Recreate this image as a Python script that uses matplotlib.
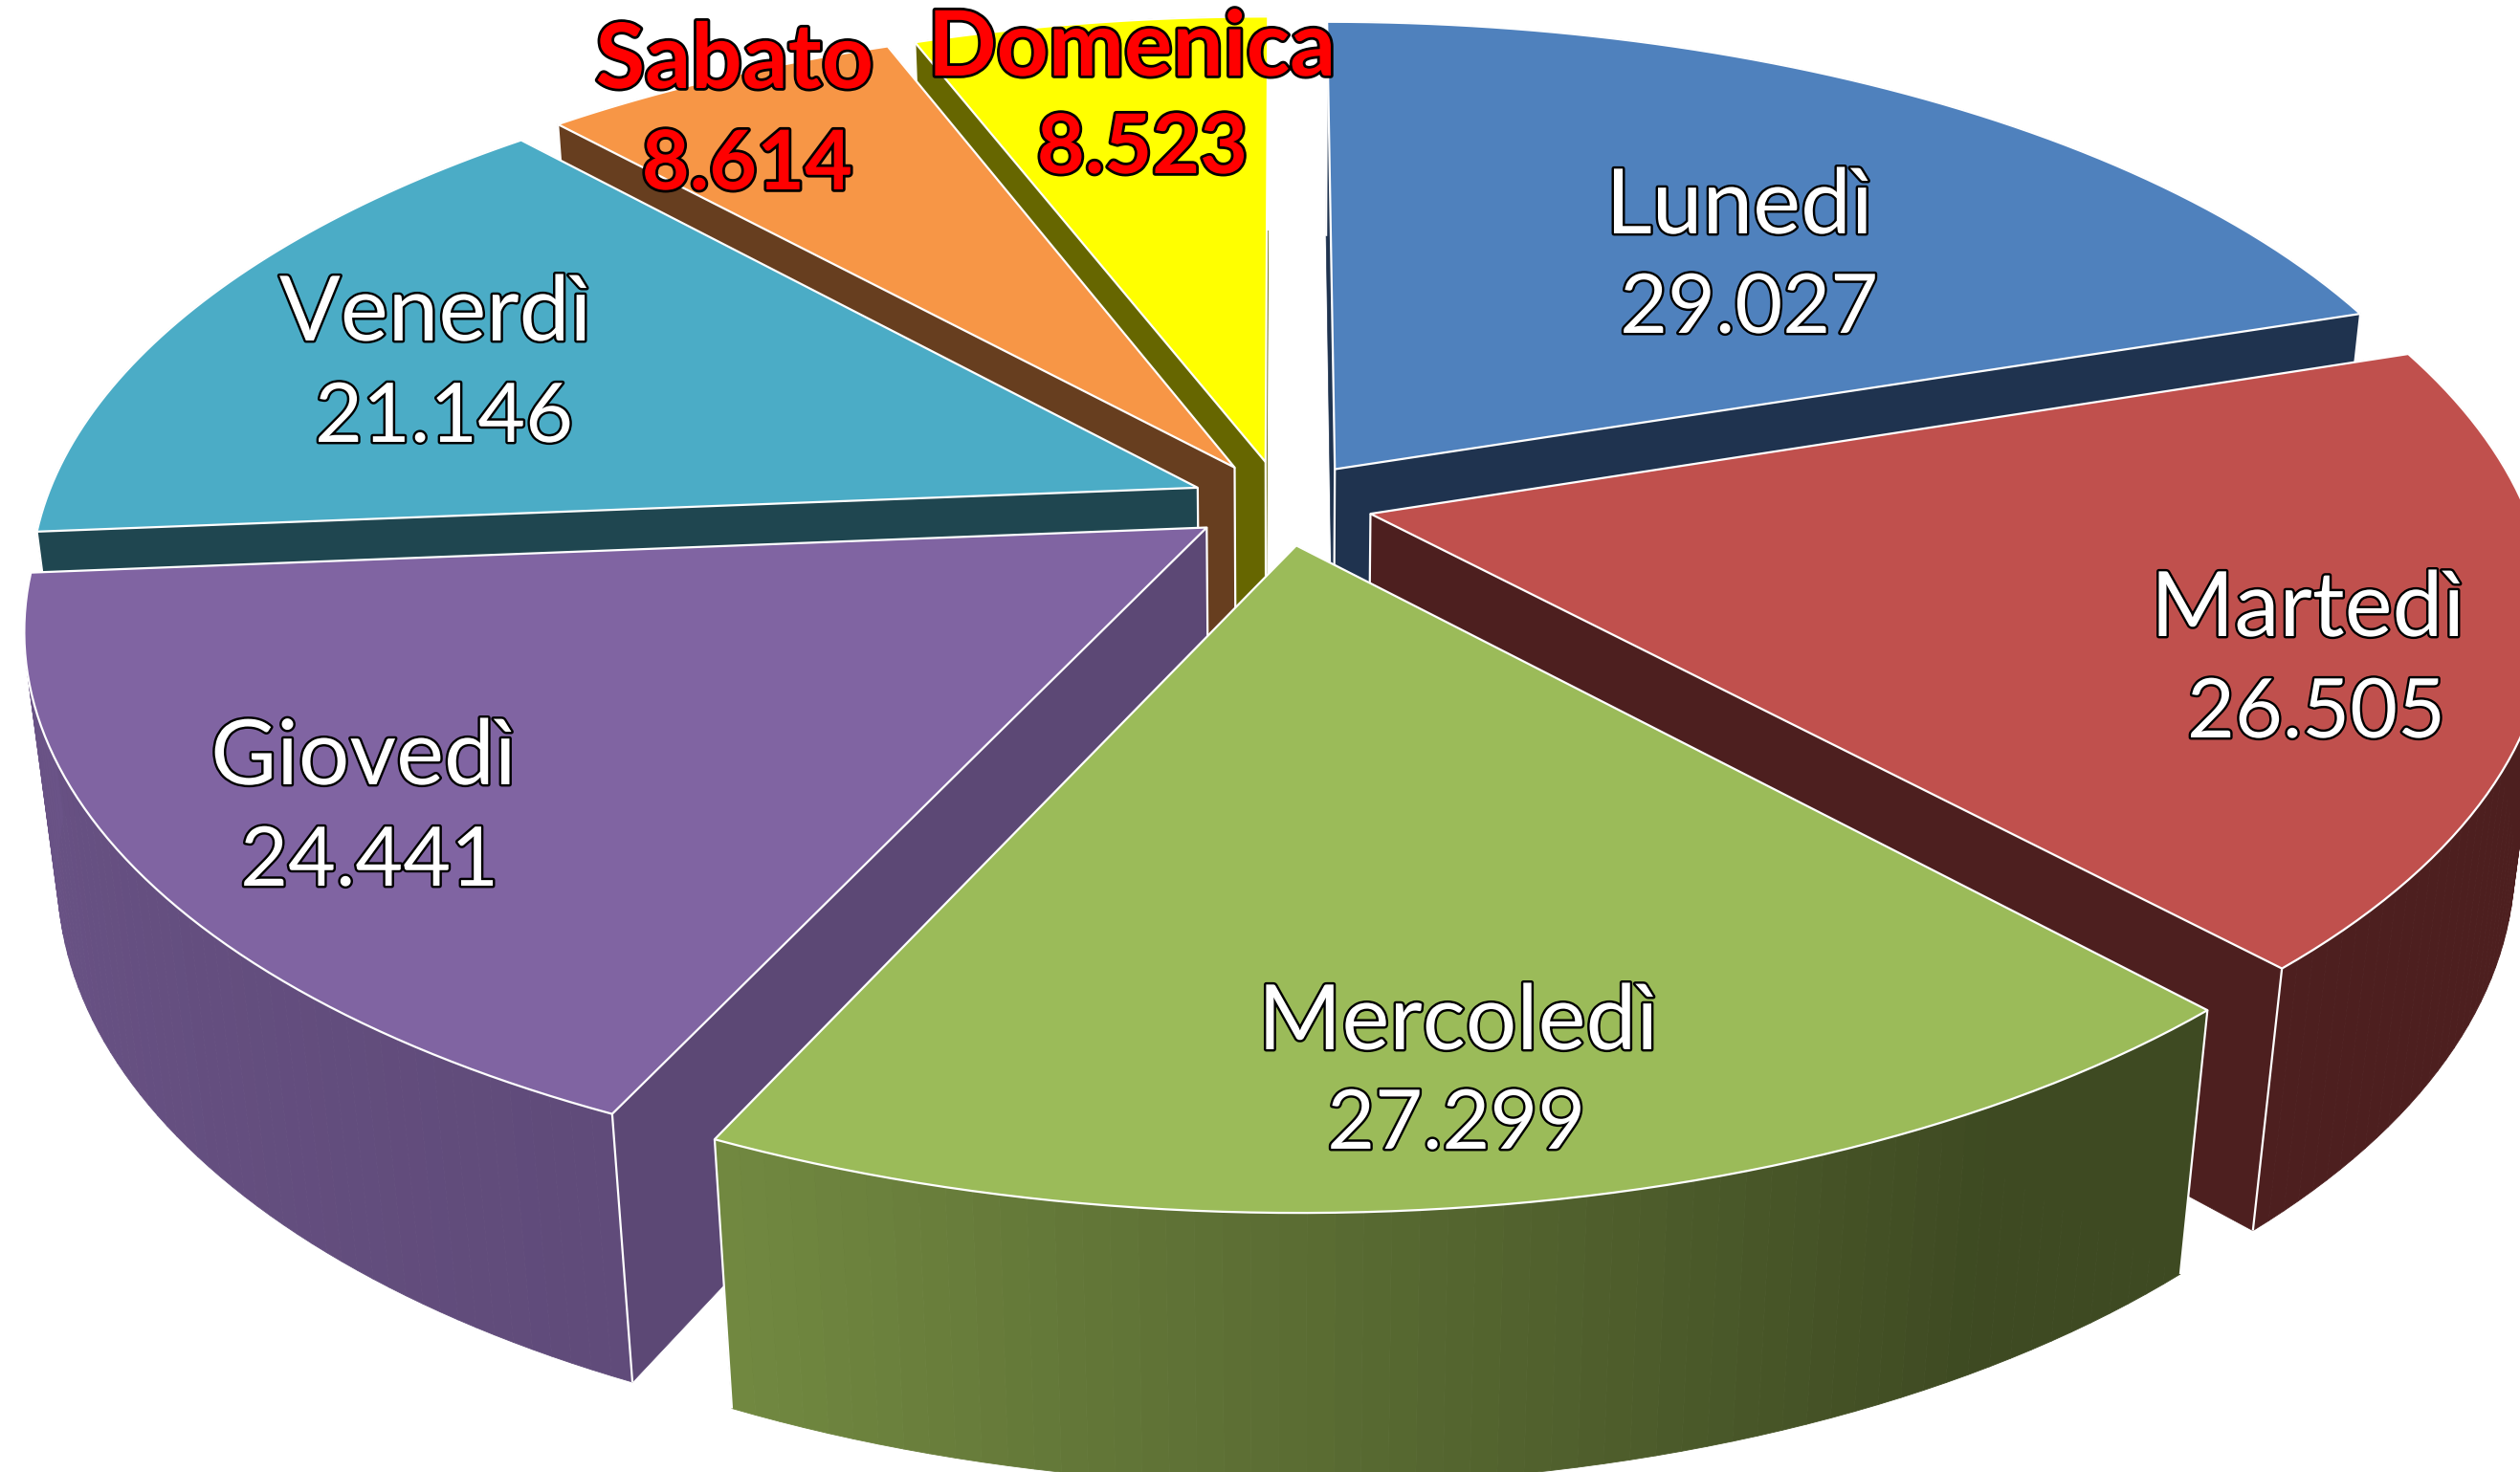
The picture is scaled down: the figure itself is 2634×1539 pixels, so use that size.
import numpy as np
import matplotlib
matplotlib.use('Agg')
import matplotlib.pyplot as plt
import matplotlib.patheffects as pe
from matplotlib.colors import to_rgb

days = ['Lunedì', 'Martedì', 'Mercoledì', 'Giovedì', 'Venerdì', 'Sabato', 'Domenica']
values = [29027, 26505, 27299, 24441, 21146, 8614, 8523]
value_labels = ['29.027', '26.505', '27.299', '24.441', '21.146', '8.614', '8.523']

top_colors = ['#4f81bd', '#c0504d', '#9bbb59', '#8064a2', '#4bacc6', '#f79646', '#ffff00']
side_colors = ['#1f334f', '#4d1f1f', '#3e4a22', '#5c4875', '#1f4650', '#673e1f', '#666600']

# painter's order, back to front
draw_order = [6, 5, 4, 0, 1, 3, 2]

# where the labels sit, baselines in pixels
name_xy = [(1818, 244), (2412, 665), (1524, 1097), (380, 820), (455, 356), (768, 92), (1183, 79)]
value_xy = [(1828, 348), (2421, 771), (1522, 1201), (386, 926), (464, 462), (781, 198), (1194, 181)]

cx, cy = 1340, 526
rx, ry = 1205, 560
height = 258
persp, persp_z = 0.173, 0.026
explode = 0.079

# outer wall shading, angle range -> share of the top colour
rim_ramps = {2: ([150, 205], [0.0, 0.56]), 3: ([205, 265], [0.1, 0.4])}


def project(u, v, z=0.0):
    w = 1 + persp * v + persp_z * z
    return cx + rx * u / w, cy + (-ry * v + height * z) / w


fig = plt.figure(figsize=(26.34, 15.39), dpi=100)
ax = fig.add_axes([0, 0, 1, 1])
ax.set_xlim(0, 2634)
ax.set_ylim(1539, 0)
ax.axis('off')

edges = np.cumsum([0] + values) / sum(values) * 360
z = 1


def draw_cuts(i, ou, ov, us, vs):
    global z
    apex_t = project(ou, ov)
    apex_b = project(ou, ov, 1)
    for j in [0, -1]:
        p_t = project(us[j], vs[j])
        p_b = project(us[j], vs[j], 1)
        ax.fill([apex_t[0], p_t[0], p_b[0], apex_b[0]], [apex_t[1], p_t[1], p_b[1], apex_b[1]],
                color=side_colors[i], lw=0.5, zorder=z)
        z += 1


def draw_rim(i, th, us, vs):
    global z
    # outer wall in small facets so it can shade across
    base = np.array(to_rgb(side_colors[i]))
    full = np.array(to_rgb(top_colors[i]))
    for j in range(len(th) - 1):
        s = 0.0
        if i in rim_ramps:
            s = np.interp((th[j] + th[j + 1]) / 2, *rim_ramps[i])
        col = base + (full - base) * s
        p0, p1 = project(us[j], vs[j]), project(us[j + 1], vs[j + 1])
        q0, q1 = project(us[j], vs[j], 1), project(us[j + 1], vs[j + 1], 1)
        ax.fill([p0[0], p1[0], q1[0], q0[0]], [p0[1], p1[1], q1[1], q0[1]], color=col, lw=0.6, zorder=z)
        z += 1


for i in draw_order:
    a0, a1 = edges[i], edges[i + 1]
    mid = np.radians((a0 + a1) / 2)
    ou, ov = explode * np.sin(mid), explode * np.cos(mid)
    th = np.linspace(a0, a1, 60)
    us = ou + np.sin(np.radians(th))
    vs = ov + np.cos(np.radians(th))

    if np.cos(mid) > 0:
        draw_rim(i, th, us, vs)
        draw_cuts(i, ou, ov, us, vs)
    else:
        draw_cuts(i, ou, ov, us, vs)
        draw_rim(i, th, us, vs)

    # white corner lines, the one on the left silhouette stays hidden
    corners = [(ou, ov), (us[0], vs[0])]
    if not 210 < a1 < 300:
        corners.append((us[-1], vs[-1]))
    for u, v in corners:
        p, q = project(u, v), project(u, v, 1)
        ax.plot([p[0], q[0]], [p[1], q[1]], color='white', lw=1.6, solid_capstyle='butt', zorder=z)
        z += 1

    # top face
    xs, ys = project(np.r_[ou, us], np.r_[ov, vs])
    ax.fill(xs, ys, facecolor=top_colors[i], edgecolor='white', lw=1.6, joinstyle='round', zorder=z)
    z += 1

for i in range(len(days)):
    style = dict(ha='center', va='baseline', family='Lato', zorder=z)
    if i >= 5:
        style.update(color='red', fontweight='bold',
                     path_effects=[pe.withStroke(linewidth=4, foreground='black')])
    else:
        style.update(color='white',
                     path_effects=[pe.withStroke(linewidth=3.5, foreground='black')])
    ax.text(name_xy[i][0], name_xy[i][1], days[i], fontsize=68, **style)
    ax.text(value_xy[i][0], value_xy[i][1], value_labels[i], fontsize=62, **style)

fig.savefig('out.png', dpi=100)
